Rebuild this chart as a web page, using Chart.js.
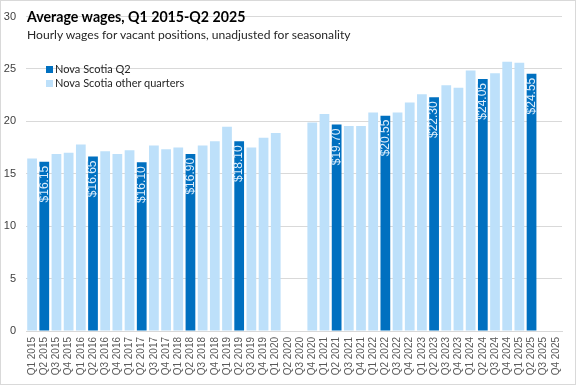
<!DOCTYPE html>
<html>
<head>
<meta charset="utf-8">
<script src="https://cdn.jsdelivr.net/npm/chart.js@4/dist/chart.umd.min.js"></script>
<style>
    html, body { margin: 0; padding: 0; background: #fff; }
    #wrap { position: relative; width: 576px; height: 385px; }
    #frame { position: absolute; left: 0; top: 0; right: 0; bottom: 0; border: 1px solid #d9d9d9; box-sizing: border-box; pointer-events: none; }
    .title { position: absolute; left: 27px; top: 8px; font: bold 14.2px Lato, sans-serif; color: #000; }
    .subtitle { position: absolute; left: 27px; top: 27px; font: 12.1px Lato, sans-serif; color: #262626; }
    .legend { position: absolute; left: 46px; font: 11px Lato, sans-serif; color: #262626; }
    .legend span { display: inline-block; width: 7px; height: 7px; margin-right: 2px; }
</style>
</head>
<body>
<div id="wrap">
    <canvas id="wageChart" width="576" height="385"></canvas>
    <div class="title">Average wages, Q1 2015-Q2 2025</div>
    <div class="subtitle">Hourly wages for vacant positions, unadjusted for seasonality</div>
    <div class="legend" style="top:62px"><span style="background:#0070c0"></span>Nova Scotia Q2</div>
    <div class="legend" style="top:76px"><span style="background:#bde0fa"></span>Nova Scotia other quarters</div>
    <div id="frame"></div>
</div>
<script>
var quarters = [
    'Q1 2015', 'Q2 2015', 'Q3 2015', 'Q4 2015',
    'Q1 2016', 'Q2 2016', 'Q3 2016', 'Q4 2016',
    'Q1 2017', 'Q2 2017', 'Q3 2017', 'Q4 2017',
    'Q1 2018', 'Q2 2018', 'Q3 2018', 'Q4 2018',
    'Q1 2019', 'Q2 2019', 'Q3 2019', 'Q4 2019',
    'Q1 2020', 'Q2 2020', 'Q3 2020', 'Q4 2020',
    'Q1 2021', 'Q2 2021', 'Q3 2021', 'Q4 2021',
    'Q1 2022', 'Q2 2022', 'Q3 2022', 'Q4 2022',
    'Q1 2023', 'Q2 2023', 'Q3 2023', 'Q4 2023',
    'Q1 2024', 'Q2 2024', 'Q3 2024', 'Q4 2024',
    'Q1 2025', 'Q2 2025', 'Q3 2025', 'Q4 2025'
];

var wages = [
    16.45, 16.15, 16.9, 17.0,
    17.8, 16.65, 17.15, 16.9,
    17.25, 16.10, 17.7, 17.35,
    17.5, 16.90, 17.7, 18.1,
    19.5, 18.10, 17.5, 18.45,
    18.9, null, null, 19.9,
    20.7, 19.70, 19.55, 19.55,
    20.85, 20.55, 20.85, 21.8,
    22.6, 22.30, 23.45, 23.2,
    24.85, 24.05, 24.6, 25.7,
    25.6, 24.55, null, null
];

var yTicks = [0, 5, 10, 15, 20, 25, 30];

(function () {
    var q2Wages = wages.map(function (v, i) {
        return quarters[i].indexOf('Q2') === 0 ? v : null;
    });
    var otherWages = wages.map(function (v, i) {
        return quarters[i].indexOf('Q2') === 0 ? null : v;
    });

    // value labels written upward inside the Q2 bars
    var q2Labels = {
        id: 'q2Labels',
        afterDatasetsDraw: function (chart) {
            var ctx = chart.ctx;
            var meta = chart.getDatasetMeta(0);
            ctx.save();
            ctx.font = '12px "Liberation Sans", Arial, sans-serif';
            ctx.fillStyle = '#dcedfb';
            ctx.textAlign = 'right';
            ctx.textBaseline = 'middle';
            meta.data.forEach(function (bar, i) {
                var v = q2Wages[i];
                if (v === null) {
                    return;
                }
                ctx.save();
                ctx.translate(bar.x, bar.y + 4);
                ctx.rotate(-Math.PI / 2);
                ctx.fillText('$' + v.toFixed(2), 0, 0);
                ctx.restore();
            });
            ctx.restore();
        }
    };

    new Chart(document.getElementById('wageChart'), {
        type: 'bar',
        data: {
            labels: quarters,
            datasets: [
                {
                    label: 'Nova Scotia Q2',
                    data: q2Wages,
                    backgroundColor: '#0070c0',
                    categoryPercentage: 1,
                    barPercentage: 0.8
                },
                {
                    label: 'Nova Scotia other quarters',
                    data: otherWages,
                    backgroundColor: '#bde0fa',
                    categoryPercentage: 1,
                    barPercentage: 0.8
                }
            ]
        },
        options: {
            responsive: false,
            animation: false,
            layout: {
                padding: { left: 4, right: 14, top: 7, bottom: 4 }
            },
            scales: {
                x: {
                    stacked: true,
                    grid: { display: false, drawTicks: false },
                    border: { color: '#d9d9d9' },
                    afterFit: function (axis) {
                        axis.height = 50;
                        axis.paddingLeft = 0;
                        axis.paddingRight = 0;
                    },
                    ticks: {
                        color: '#595959',
                        font: { family: '"Liberation Sans", Arial, sans-serif', size: 10 },
                        minRotation: 90,
                        maxRotation: 90,
                        autoSkip: false,
                        padding: 6
                    }
                },
                y: {
                    stacked: true,
                    min: 0,
                    max: 30,
                    afterBuildTicks: function (axis) {
                        axis.ticks = yTicks.map(function (v) { return { value: v }; });
                    },
                    afterFit: function (axis) {
                        axis.width = 22;
                    },
                    grid: { color: '#d9d9d9', drawTicks: false },
                    border: { display: false },
                    ticks: {
                        color: '#404040',
                        font: { family: '"Liberation Sans", Arial, sans-serif', size: 11 },
                        padding: 10
                    }
                }
            },
            plugins: {
                legend: { display: false },
                tooltip: { enabled: false }
            }
        },
        plugins: [q2Labels]
    });
})();
</script>
</body>
</html>
